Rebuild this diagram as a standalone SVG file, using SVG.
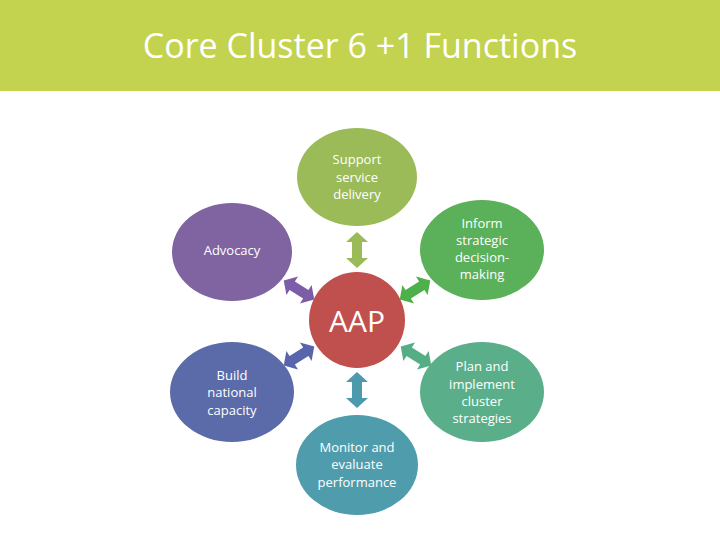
<svg xmlns="http://www.w3.org/2000/svg" xmlns:xlink="http://www.w3.org/1999/xlink" width="720" height="540" viewBox="0 0 720 540">
<style>
text{font-family:"Open Sans","Liberation Sans",sans-serif;fill:#fff;text-anchor:middle}
.l{font-size:13px}
</style>
<defs>
<polygon id="da" points="-18,0 -8,-11 -8,-5 8,-5 8,-11 18,0 8,11 8,5 -8,5 -8,11"/>
</defs>
<rect width="720" height="540" fill="#fff"/>
<rect width="720" height="91" fill="#c3d34f"/>
<text x="360" y="58" font-size="34" style="font-family:'Open Sans','Liberation Sans',sans-serif">Core Cluster 6 +1 Functions</text>
<g id="connectors">
<use xlink:href="#da" fill="#9bbb59" transform="translate(357,250) rotate(90)"/>
<use xlink:href="#da" fill="#7b5ea7" transform="translate(299,290) rotate(32)"/>
<use xlink:href="#da" fill="#4db04a" transform="translate(415,290) rotate(-32)"/>
<use xlink:href="#da" fill="#5865ad" transform="translate(299,356) rotate(-32)"/>
<use xlink:href="#da" fill="#55ad86" transform="translate(416,356) rotate(32)"/>
<use xlink:href="#da" fill="#4d99ae" transform="translate(357,390) rotate(90)"/>
</g>
<g id="support"><ellipse cx="357" cy="177" rx="60" ry="49" fill="#9bbb59"/>
<text class="l" x="357" y="164">Support</text><text class="l" x="357" y="182">service</text><text class="l" x="357" y="199">delivery</text></g>
<g id="advocacy"><ellipse cx="232" cy="252" rx="60" ry="49" fill="#8064a2"/>
<text class="l" x="232" y="255">Advocacy</text></g>
<g id="inform"><ellipse cx="482" cy="250" rx="62" ry="50" fill="#5bb05a"/>
<text class="l" x="482" y="228">Inform</text><text class="l" x="482" y="245">strategic</text><text class="l" x="482" y="262">decision-</text><text class="l" x="482" y="279">making</text></g>
<g id="aap"><circle cx="357" cy="320" r="48" fill="#c0504d"/>
<text x="357" y="332" font-size="30">AAP</text></g>
<g id="build"><ellipse cx="232" cy="392" rx="62" ry="50" fill="#5b6aa8"/>
<text class="l" x="232" y="380">Build</text><text class="l" x="232" y="397">national</text><text class="l" x="232" y="415">capacity</text></g>
<g id="plan"><ellipse cx="482" cy="392" rx="62" ry="50" fill="#5aaf8a"/>
<text class="l" x="482" y="371">Plan and</text><text class="l" x="482" y="389">implement</text><text class="l" x="482" y="406">cluster</text><text class="l" x="482" y="423">strategies</text></g>
<g id="monitor"><ellipse cx="357" cy="465" rx="61" ry="50" fill="#4f9cac"/>
<text class="l" x="357" y="452">Monitor and</text><text class="l" x="357" y="469">evaluate</text><text class="l" x="357" y="487">performance</text></g>
</svg>
